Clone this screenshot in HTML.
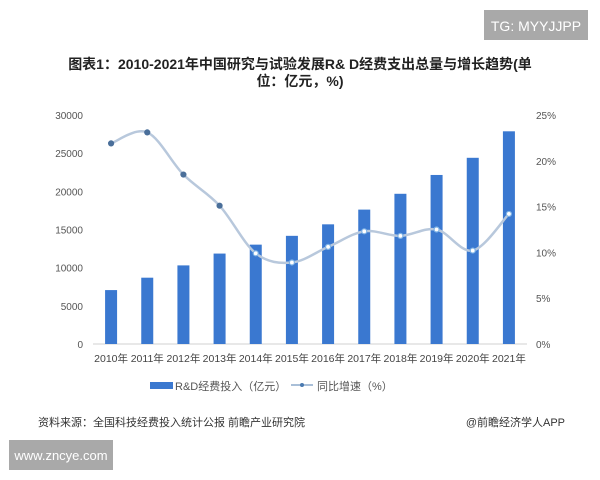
<!DOCTYPE html>
<html><head><meta charset="utf-8"><style>
body{margin:0;width:600px;height:480px;background:#fff;overflow:hidden;font-family:"Liberation Sans","Noto Sans CJK SC",sans-serif;}
svg{position:absolute;left:0;top:0}
</style></head><body>
<svg id="c" width="600" height="480" xmlns="http://www.w3.org/2000/svg">
<rect x="484" y="10" width="104" height="30" fill="#a9a9a9"/>
<text x="536" y="31" text-anchor="middle" font-size="14" fill="#fff">TG: MYYJJPP</text>
<text x="300" y="69" text-anchor="middle" font-size="14" font-weight="bold" fill="#222">图表1：2010-2021年中国研究与试验发展R&amp; D经费支出总量与增长趋势(单</text>
<text x="300" y="86" text-anchor="middle" font-size="14" font-weight="bold" fill="#222">位：亿元，%)</text>
<g id="plot"></g>
<rect x="150" y="382" width="23" height="7" fill="#3a78d0"/>
<text x="175" y="390" font-size="11" fill="#555">R&amp;D经费投入（亿元）</text>
<line x1="291" y1="385" x2="313" y2="385" stroke="#a9bfd8" stroke-width="2"/>
<circle cx="302" cy="385" r="2" fill="#4a7ab0"/>
<text x="317" y="390" font-size="11" fill="#555">同比增速（%）</text>
<text x="38" y="426" font-size="11" fill="#333">资料来源：全国科技经费投入统计公报 前瞻产业研究院</text>
<text x="565" y="426" text-anchor="end" font-size="11" fill="#333">@前瞻经济学人APP</text>
<rect x="9" y="440" width="104" height="30" fill="#a9a9a9"/>
<text x="61" y="460" text-anchor="middle" font-size="13" fill="#fff">www.zncye.com</text>
</svg>
<script>
const categories=["2010年","2011年","2012年","2013年","2014年","2015年","2016年","2017年","2018年","2019年","2020年","2021年"];
const spending=[7063,8687,10298,11847,13016,14170,15677,17606,19678,22144,24393,27864];
const growth=[21.9,23.1,18.5,15.1,9.9,8.9,10.6,12.3,11.8,12.5,10.2,14.2];
const leftTicks=[0,5000,10000,15000,20000,25000,30000];
const rightTicks=[0,5,10,15,20,25];
const NS="http://www.w3.org/2000/svg";
const g=document.getElementById('plot');
const top_=115,bot=344,x0=93,x1=527;
const step=(x1-x0)/categories.length;
const xc=i=>x0+step*(i+0.5);
const yL=v=>bot-(v/30000)*(bot-top_);
const yR=v=>bot-(v/25)*(bot-top_);
function mk(t,a){const e=document.createElementNS(NS,t);for(const k in a)e.setAttribute(k,a[k]);g.appendChild(e);return e;}
leftTicks.forEach(v=>{const t=mk('text',{x:83,y:yL(v)+4,'text-anchor':'end','font-size':10,fill:'#555'});t.textContent=v;

});
rightTicks.forEach(v=>{const t=mk('text',{x:536,y:yR(v)+4,'font-size':10,fill:'#555'});t.textContent=v+'%';

});
const ax=mk('line',{x1:x0,y1:bot,x2:x1,y2:bot,stroke:'#d0d0d0'});


spending.forEach((v,i)=>{const r=mk('rect',{x:xc(i)-6,y:yL(v),width:12,height:bot-yL(v),fill:'#3a78d0'});

});
categories.forEach((c,i)=>{const t=mk('text',{x:xc(i),y:bot+18,'text-anchor':'middle','font-size':10.5,fill:'#444'});t.textContent=c;

});
const pts=growth.map((v,i)=>[xc(i),yR(v)]);
let d='M'+pts[0][0]+','+pts[0][1];
for(let i=0;i<pts.length-1;i++){const p0=pts[Math.max(0,i-1)],p1=pts[i],p2=pts[i+1],p3=pts[Math.min(pts.length-1,i+2)];
d+=` C${p1[0]+(p2[0]-p0[0])/6},${p1[1]+(p2[1]-p0[1])/6} ${p2[0]-(p3[0]-p1[0])/6},${p2[1]-(p3[1]-p1[1])/6} ${p2[0]},${p2[1]}`;}
const ln=mk('path',{d:d,fill:'none',stroke:'#b8c8dc',"stroke-width":2.5});


pts.forEach((p,i)=>{const c=mk('circle',{cx:p[0],cy:p[1],r:2.5,fill:i<4?'#4a6f9a':'#fff',stroke:i<4?'#4a6f9a':'#7fb3e6','stroke-width':1.2});

});
</script>
</body></html>
